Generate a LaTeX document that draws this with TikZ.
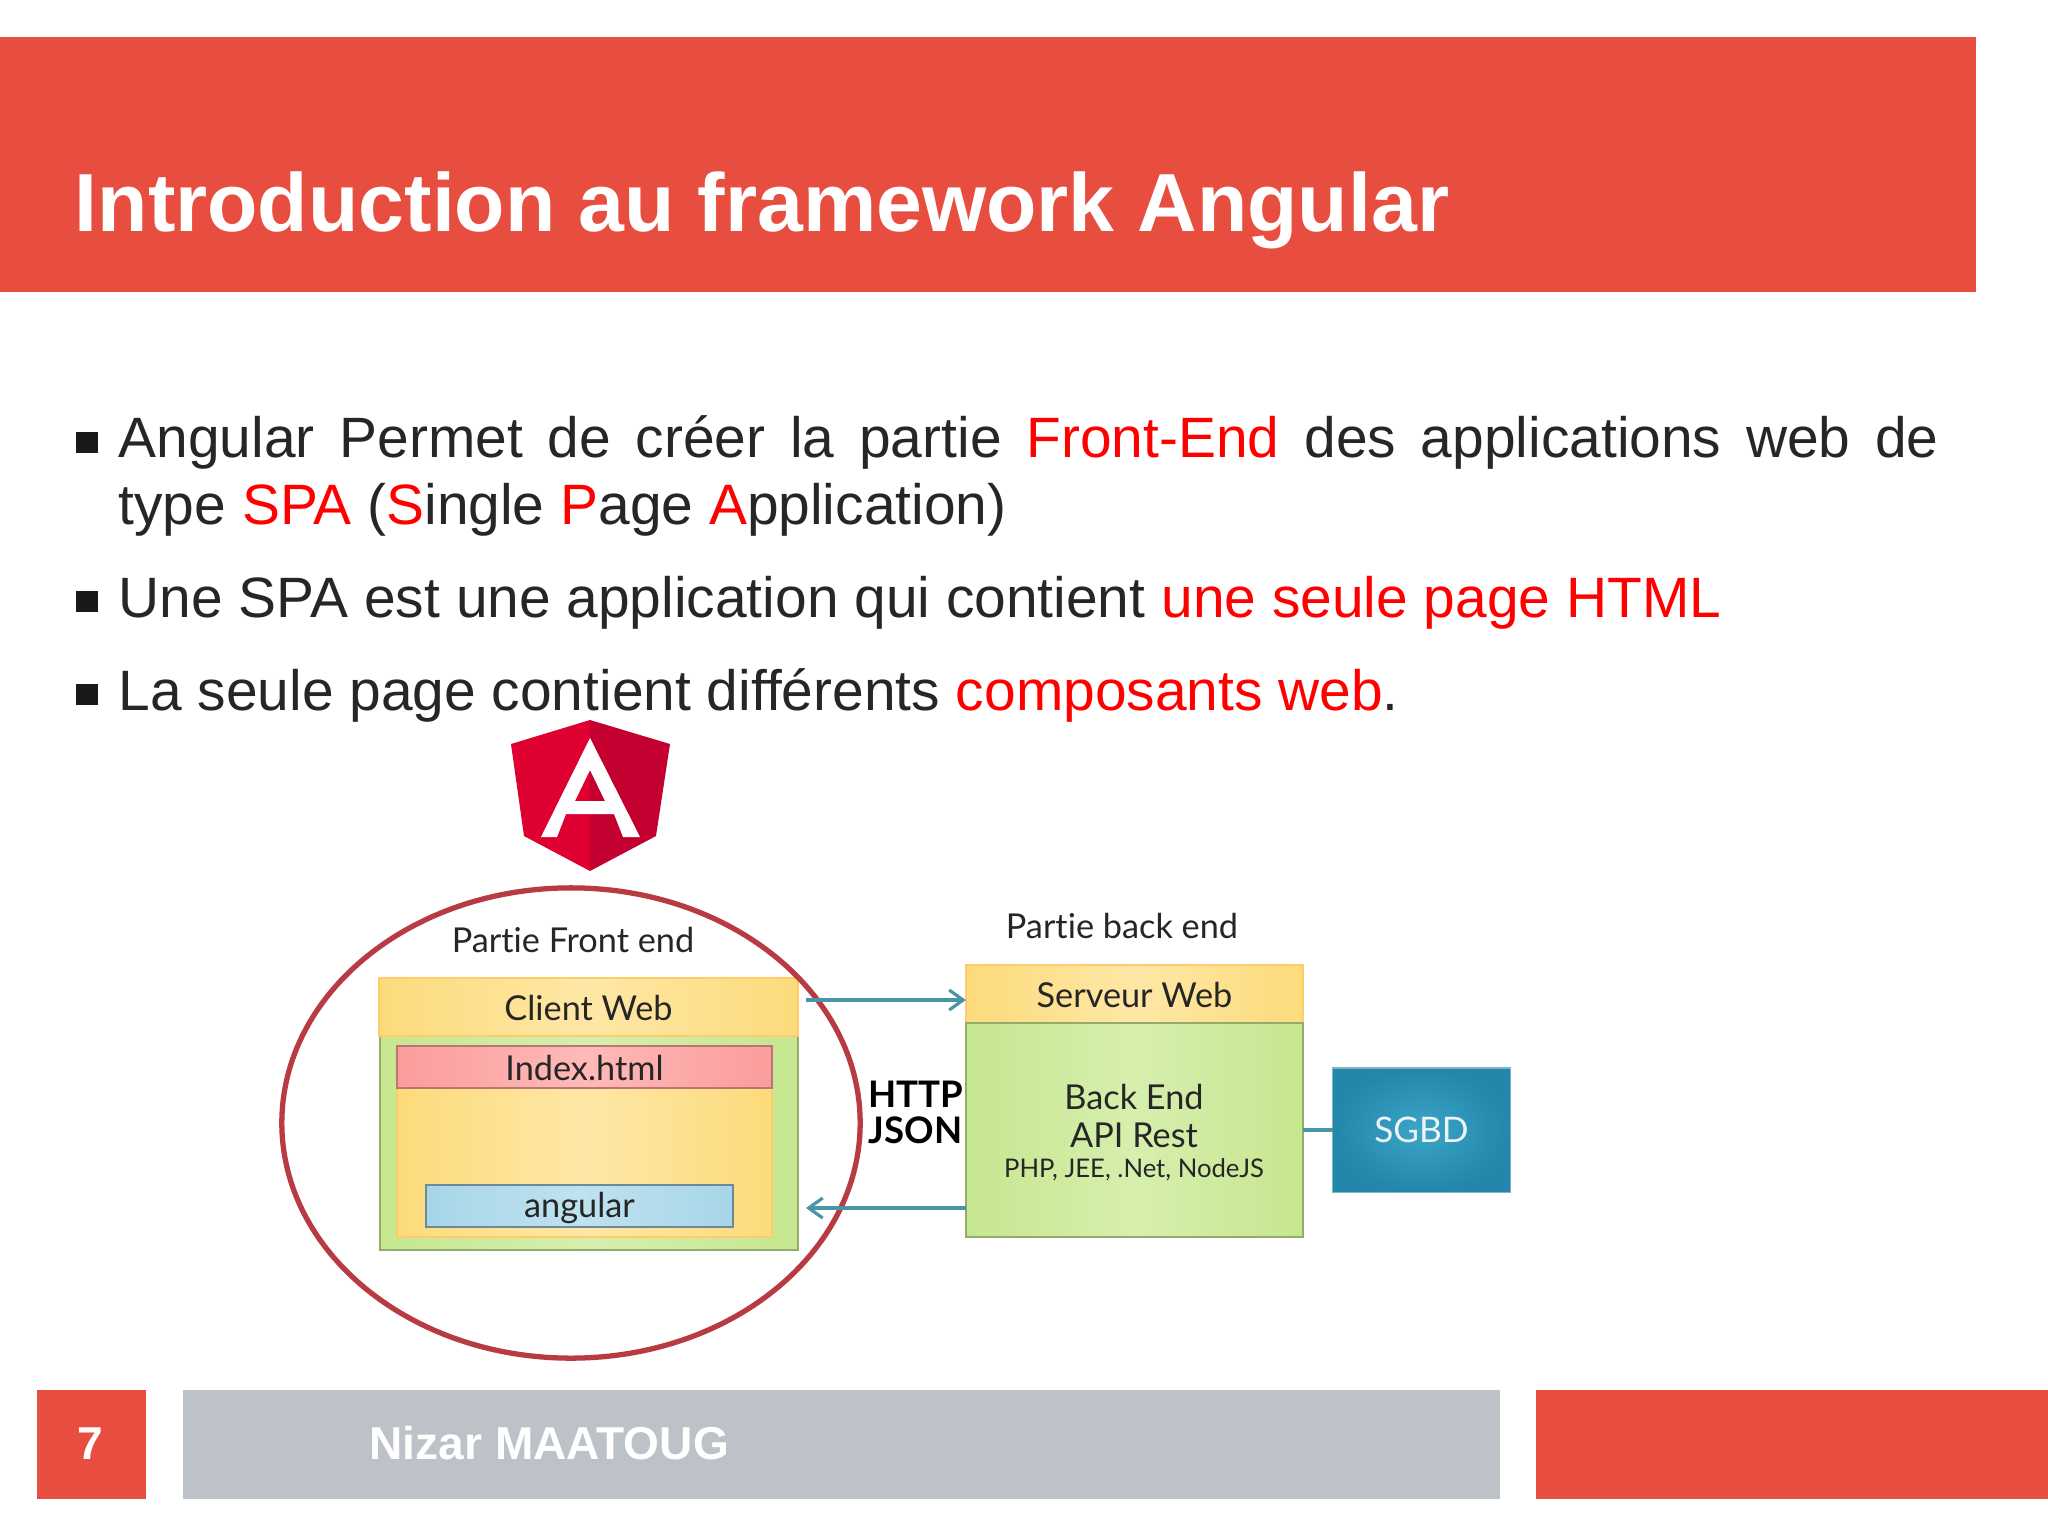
\documentclass[tikz,border=0pt]{standalone}
\usepackage{fontspec}
\setmainfont{Liberation Sans}
\newfontfamily\gill[Ligatures=NoCommon]{Lato}
\usetikzlibrary{arrows.meta,shapes.geometric}
\definecolor{hdr}{HTML}{E84E40}
\definecolor{foot}{HTML}{BDC1C8}
\definecolor{ink}{HTML}{262626}
\definecolor{hot}{HTML}{FF0000}
\definecolor{ringc}{HTML}{B83A42}
\definecolor{teal}{HTML}{4A94A8}
\definecolor{yelE}{HTML}{FDDB7C}
\definecolor{yelM}{HTML}{FEE7A6}
\definecolor{grnE}{HTML}{C6E68F}
\definecolor{grnM}{HTML}{D6EFAE}
\definecolor{pnkE}{HTML}{FB9C9C}
\definecolor{pnkM}{HTML}{FEBAB8}
\definecolor{bluE}{HTML}{A6D6E8}
\definecolor{bluM}{HTML}{BFE2F0}
\tikzset{
  x=0.01cm,y=-0.01cm,
  band/.style={fill=#1,draw=none,inner sep=0pt,outer sep=0pt},
  bullet/.style={fill=black!90,draw=none,inner sep=0pt,minimum size=0.21cm},
  tit/.style={anchor=base west,inner sep=0pt,text=white,font=\bfseries\fontsize{23.45}{28}\selectfont},
  body/.style={anchor=base west,inner sep=0pt,text=ink,font=\fontsize{16.18}{19}\selectfont},
  foottext/.style={anchor=base,inner sep=0pt,text=white,font=\bfseries\fontsize{13.1}{16}\selectfont},
  yelbox/.style={inner sep=0pt,outer sep=0pt,draw=yelE!85!orange,line width=0.4pt,left color=yelE,right color=yelE,middle color=yelM},
  grnbox/.style={inner sep=0pt,outer sep=0pt,draw=grnE!75!black,line width=0.4pt,left color=grnE,right color=grnE,middle color=grnM},
  pnkbox/.style={inner sep=0pt,outer sep=0pt,draw=pnkE!75!black,line width=0.4pt,left color=pnkE,right color=pnkE,middle color=pnkM},
  blubox/.style={inner sep=0pt,outer sep=0pt,draw=bluE!65!black,line width=0.4pt,left color=bluE,right color=bluE,middle color=bluM},
  lab/.style={inner sep=0pt,anchor=base,text=black!85,font=\gill\fontsize{9.75}{11}\selectfont},
  hj/.style={inner sep=0pt,anchor=base west,text=black,font=\gill\bfseries\fontsize{10.4}{12}\selectfont},
  link/.style={draw=teal,line width=1.0pt},
  linkar/.style={link,-{Straight Barb[length=0.14cm,width=0.2cm,line width=0.9pt]}},
}
\begin{document}
\begin{tikzpicture}
\useasboundingbox[fill=white] (0,0) rectangle (2048,1536);
% header and footer bands
\node[band=hdr,anchor=north west,minimum width=19.75cm,minimum height=2.55cm] (header) at (0,37) {};
\node[tit] (title) at (74,231) {Introduction au framework Angular};
\node[band=hdr,anchor=north west,minimum width=1.09cm,minimum height=1.09cm] (pagebox) at (37,1390) {};
\node[band=foot,anchor=north west,minimum width=13.16cm,minimum height=1.09cm] (authorbox) at (183,1390) {};
\node[band=hdr,anchor=north west,minimum width=6.72cm,minimum height=1.09cm] (endbox) at (1536,1390) {};
\node[foottext] (pagenum) at (90,1459) {7};
\node[foottext,anchor=base west] (author) at (369,1459) {Nizar MAATOUG};
% bullets
\node[bullet] (b1) at (87,442) {};
\node[bullet] (b2) at (87,601) {};
\node[bullet] (b3) at (87,694) {};
\node[body] (l1) at (118,457.5) {\makebox[18.19cm][s]{Angular Permet de créer la partie \textcolor{hot}{Front-End} des applications web de}};
\node[body] (l2) at (118,524) {type \textcolor{hot}{SPA} (\textcolor{hot}{S}ingle \textcolor{hot}{P}age \textcolor{hot}{A}pplication)};
\node[body] (l3) at (118,617) {Une SPA est une application qui contient \textcolor{hot}{une seule page HTML}};
\node[body] (l4) at (118,710) {La seule page contient différents \textcolor{hot}{composants web}.};
% Angular logo
\fill[fill={rgb,255:red,221;green,0;blue,49}] (590,720) -- (511,744) -- (524,836) -- (590,871) -- cycle;
\fill[fill={rgb,255:red,195;green,0;blue,47}] (590,720) -- (670,744) -- (656,836) -- (590,871) -- cycle;
\fill[white,even odd rule] (590,738) -- (640,837) -- (623,837) -- (614,814) -- (566,814) -- (557,837) -- (541,837) -- cycle
  (590,770) -- (605,801) -- (575,801) -- cycle;
% front end
\node[lab] (front) at (573,952) {Partie Front end};
\node[grnbox,minimum width=4.18cm,minimum height=2.14cm] (cgreen) at (589,1143) {};
\node[yelbox,minimum width=3.75cm,minimum height=1.49cm] (cinner) at (584.5,1162.5) {};
\node[yelbox,minimum width=4.19cm,minimum height=0.58cm] (client) at (588.5,1007) {};
\node[lab] at (client.center) [anchor=center,yshift=-0.01cm] {Client Web};
\node[pnkbox,minimum width=3.75cm,minimum height=0.42cm] (index) at (584.5,1067) {};
\node[lab] at (index.center) [anchor=center,yshift=-0.01cm] {Index.html};
\node[blubox,minimum width=3.07cm,minimum height=0.42cm] (ang) at (579.5,1206) {};
\node[lab] at (ang.center) [anchor=center,yshift=-0.02cm] {angular};
\node[draw=ringc,line width=1.5pt,ellipse,minimum width=5.78cm,minimum height=4.70cm,inner sep=0pt] (ring) at (571,1123) {};
% back end
\node[lab] (back) at (1122,938) {Partie back end};
\node[yelbox,minimum width=3.37cm,minimum height=0.58cm] (srv) at (1134.5,994) {};
\node[lab] at (srv.center) [anchor=center,yshift=-0.01cm] {Serveur Web};
\node[grnbox,minimum width=3.37cm,minimum height=2.14cm] (api) at (1134.5,1130) {};
\node[lab] (api1) at (1134,1109) {Back End};
\node[lab] (api2) at (1134,1147) {API Rest};
\node[lab,font=\gill\fontsize{7.3}{9}\selectfont] (api3) at (1134,1177) {PHP, JEE, .Net, NodeJS};
\node[inner sep=0pt,outer sep=0pt,minimum width=1.77cm,minimum height=1.24cm,draw=teal!70,line width=0.3pt,inner color={rgb,255:red,60;green,165;blue,200},outer color={rgb,255:red,34;green,135;blue,170},text=white!90!teal,font=\gill\fontsize{10}{12}\selectfont] (sgbd) at (1421.5,1130) {SGBD};
\node[hj] (http) at (868,1107) {HTTP};
\node[hj] (json) at (868,1143) {JSON};
% connectors
\coordinate (up) at (806,1000);
\coordinate (down) at (806,1208);
\draw[linkar] (up) -- (up -| api.west);
\draw[linkar] (down -| api.west) -- (down);
\draw[link] (api.east |- sgbd.west) -- (sgbd.west);
\end{tikzpicture}
\end{document}
